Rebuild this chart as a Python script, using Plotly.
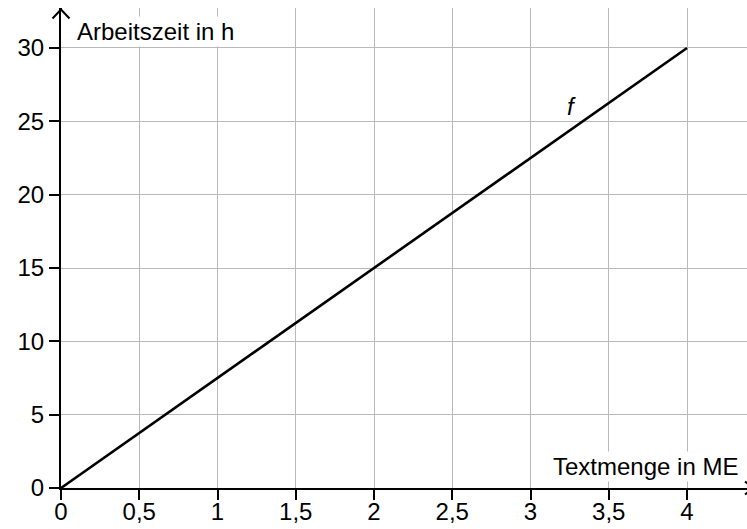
import plotly.graph_objects as go

# Data
x_values = [0, 4]
y_values = [0, 30]
x_ticks = [0, 0.5, 1, 1.5, 2, 2.5, 3, 3.5, 4]
x_tick_labels = ["0", "0,5", "1", "1,5", "2", "2,5", "3", "3,5", "4"]
y_ticks = [0, 5, 10, 15, 20, 25, 30]
y_tick_labels = ["0", "5", "10", "15", "20", "25", "30"]
x_title = "Textmenge in ME"
y_title = "Arbeitszeit in h"
curve_label = "f"

W, H = 747, 529
L, R, T, B = 61, 0, 8, 41
PW, PH = W - L - R, H - T - B
XS = 156.5   # px per x unit
YS = 14.667  # px per y unit

FONT = "Liberation Sans, Arial, Helvetica, sans-serif"
FS = 24

fig = go.Figure()
fig.add_trace(go.Scatter(x=x_values, y=y_values, mode="lines",
                         line=dict(color="black", width=2.6),
                         hoverinfo="skip", showlegend=False))

def px2paper(px, py):
    return (px - L) / PW, 1 - (py - T) / PH

# arrow heads (open chevrons) in paper coordinates
ya = [px2paper(52.5, 18.5), px2paper(61, 9.5), px2paper(69.5, 18.5)]
xa = [px2paper(745, 481.5), px2paper(753, 488), px2paper(745, 494.5)]
shapes = []
for pts in (ya, xa):
    path = "M {} {} L {} {} L {} {}".format(pts[0][0], pts[0][1], pts[1][0], pts[1][1], pts[2][0], pts[2][1])
    shapes.append(dict(type="path", path=path, xref="paper", yref="paper",
                       line=dict(color="black", width=2), layer="above"))
# extend y-axis line to the arrow tip
shapes.append(dict(type="line", xref="paper", yref="paper",
                   x0=0, x1=0, y0=1, y1=px2paper(61, 9.5)[1],
                   line=dict(color="black", width=2)))

annotations = [
    dict(text=y_title, xref="paper", yref="paper",
         x=px2paper(75, 0)[0], y=px2paper(0, 31)[1],
         xanchor="left", yanchor="middle", showarrow=False,
         bgcolor="white", font=dict(family=FONT, size=FS, color="black")),
    dict(text=x_title, xref="paper", yref="paper",
         x=px2paper(740, 0)[0], y=px2paper(0, 466)[1],
         xanchor="right", yanchor="middle", showarrow=False,
         bgcolor="white", font=dict(family=FONT, size=FS, color="black")),
    dict(text="<i>" + curve_label + "</i>", x=3.26, y=26.0, xref="x", yref="y",
         showarrow=False, font=dict(family=FONT, size=FS, color="black")),
]

fig.update_layout(
    width=W, height=H,
    margin=dict(l=L, r=R, t=T, b=B, pad=0, autoexpand=False),
    paper_bgcolor="white", plot_bgcolor="white",
    shapes=shapes, annotations=annotations,
    font=dict(family=FONT, size=FS, color="black"),
    xaxis=dict(range=[0, PW / XS], tickvals=x_ticks, ticktext=x_tick_labels,
               automargin=False, ticklabelstandoff=-9,
               showgrid=True, gridcolor="#b9b9b9", gridwidth=1,
               zeroline=False, showline=True, linecolor="black", linewidth=2,
               ticks="outside", ticklen=10, tickwidth=2, tickcolor="black",
               tickfont=dict(family=FONT, size=FS, color="black"), fixedrange=True),
    yaxis=dict(range=[0, PH / YS], tickvals=y_ticks, ticktext=y_tick_labels,
               automargin=False,
               showgrid=True, gridcolor="#b9b9b9", gridwidth=1,
               zeroline=False, showline=True, linecolor="black", linewidth=2,
               ticks="outside", ticklen=10, tickwidth=2, tickcolor="black",
               tickfont=dict(family=FONT, size=FS, color="black"), fixedrange=True),
)

fig.write_html("out.html", config={"displayModeBar": False},
               post_script="document.body.style.margin='0';document.body.style.padding='0';document.documentElement.style.overflow='hidden';")
